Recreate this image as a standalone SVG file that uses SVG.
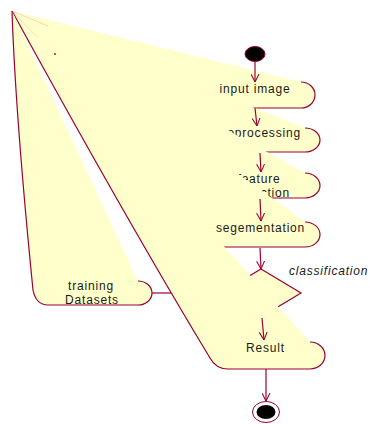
<svg xmlns="http://www.w3.org/2000/svg" width="370" height="424" viewBox="0 0 370 424">
<style>
.n{fill:#FFFFCC;stroke:none}
.s{fill:none;stroke:#990033;stroke-width:1.2}
.t{font-family:"Liberation Sans",Arial,sans-serif;font-size:12px;letter-spacing:0.8px;fill:#1a1a1a;text-anchor:middle}
.c{fill:none;stroke:#990033;stroke-width:1.2}
</style>
<defs>
<marker id="ah" viewBox="0 0 10 10" refX="10" refY="5" markerWidth="8" markerHeight="9" markerUnits="userSpaceOnUse" orient="auto">
<path d="M0,0 L10,5 L0,10" fill="none" stroke="#990033" stroke-width="1.3"/>
</marker>
</defs>
<rect width="370" height="424" fill="#fff"/>
<g id="start">
<ellipse cx="255" cy="54" rx="10" ry="7.5" fill="#000" stroke="#990033" stroke-width="1"/>
</g>
<g id="input-image">
<path class="n" d="M12,11 L301,82 A14,13 0 0 1 301,108 L210,108 Z"/>
<path class="s" d="M301,82 A14,13 0 0 1 301,108 L210,108"/>
<text class="t" x="255" y="93">input image</text>
</g>
<g id="preprocessing">
<path class="n" d="M12,11 L305,128 A15,12 0 0 1 305,152 L210,152 Z"/>
<path class="s" d="M305,128 A15,12 0 0 1 305,152 L210,152"/>
<text class="t" x="258" y="137">preprocessing</text>
</g>
<g id="feature-extraction">
<path class="n" d="M12,11 L305,173 A15,12.5 0 0 1 305,198 L210,198 Z"/>
<path class="s" d="M305,173 A15,12.5 0 0 1 305,198 L210,198"/>
<text class="t" x="259" y="183">feature</text>
<text class="t" x="260" y="196.5">extraction</text>
</g>
<g id="segementation">
<path class="n" d="M12,11 L305,222 A15,12.5 0 0 1 305,247 L210,247 Z"/>
<path class="s" d="M305,222 A15,12.5 0 0 1 305,247 L210,247"/>
<text class="t" x="260.5" y="232">segementation</text>
</g>
<g id="classification">
<path d="M261,269 L301,293 L261,317 L221,293 Z" fill="#FFFFCC" stroke="#990033" stroke-width="1.2"/>
<text x="289" y="275" style="font-family:'Liberation Sans',Arial,sans-serif;font-size:12px;font-style:italic;letter-spacing:0.8px;fill:#1a1a1a">classification</text>
</g>
<g id="result">
<path class="n" d="M12,11 L310,342 A15,13.5 0 0 1 310,369 L228,369 Q216,369 210,358 C158,272 80,135 12,11 Z"/>
<path class="s" d="M310,342 A15,13.5 0 0 1 310,369 L228,369 Q216,369 210,358 C158,272 80,135 12,11"/>
<text class="t" x="265.5" y="352">Result</text>
</g>
<g id="training-datasets">
<path class="n" d="M12,11 L138,281 A14,12 0 0 1 138,305 L48,305 Q36,305 33,290 C27,230 15,100 12,11 Z"/>
<path class="s" d="M138,281 A14,12 0 0 1 138,305 L48,305 Q36,305 33,290 C27,230 15,100 12,11"/>
<text class="t" x="91" y="290">training</text>
<text class="t" x="92" y="303.5">Datasets</text>
</g>
<g id="end">
<ellipse cx="266" cy="412" rx="13.5" ry="10.5" fill="#fff" stroke="#990033" stroke-width="1"/>
<ellipse cx="266" cy="412" rx="9.5" ry="7" fill="#000"/>
</g>
<g id="marks">
<line x1="12" y1="11" x2="48" y2="26" stroke="#c06080" stroke-width="0.5" stroke-opacity="0.5"/>
<line x1="12" y1="11" x2="37" y2="37" stroke="#c06080" stroke-width="0.5" stroke-opacity="0.4"/>
<circle cx="55" cy="54" r="0.9" fill="#990033"/>
</g>
<g id="connectors">
<line class="c" x1="255" y1="62" x2="255" y2="82" marker-end="url(#ah)"/>
<line class="c" x1="255" y1="108" x2="257" y2="126" marker-end="url(#ah)"/>
<line class="c" x1="260" y1="153" x2="261" y2="172" marker-end="url(#ah)"/>
<line class="c" x1="260" y1="199" x2="261" y2="221" marker-end="url(#ah)"/>
<line class="c" x1="260" y1="248" x2="261" y2="269" marker-end="url(#ah)"/>
<line class="c" x1="262" y1="318" x2="264" y2="340" marker-end="url(#ah)"/>
<line class="c" x1="266" y1="369" x2="266" y2="401" marker-end="url(#ah)"/>
<line class="c" x1="152" y1="293" x2="171" y2="293"/>
</g>
</svg>
